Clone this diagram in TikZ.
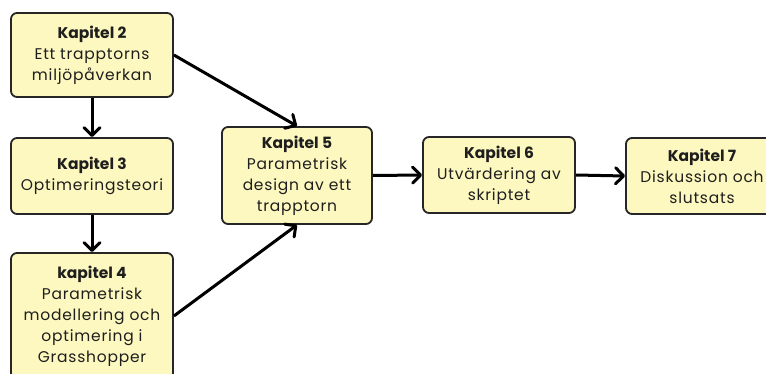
\documentclass[tikz,border=0pt]{standalone}
\usepackage{fontspec}
\setmainfont{Poppins}
\usetikzlibrary{arrows.meta}
\definecolor{boxfill}{HTML}{FDF8BF}
\definecolor{boxline}{HTML}{262626}
\definecolor{ink}{HTML}{1E1E1E}
\newfontfamily\bodyfont[LetterSpace=5]{Poppins}
\tikzset{
  chapter/.style={draw=boxline, line width=1.8pt, fill=boxfill, rounded corners=6pt,
    align=center, text=ink, inner sep=0pt,
    font=\fontsize{15.5}{21}\selectfont\bodyfont},
  flow/.style={line width=3pt, draw=black,
    -{Straight Barb[length=8pt,width=16pt,line cap=round,line join=round]}}
}
\newcommand{\chaptitle}[1]{{\fontsize{15.5}{21}\selectfont\normalfont\bfseries #1}}
\begin{document}
\begin{tikzpicture}[x=1pt,y=-1pt]
  \useasboundingbox (0,0) rectangle (766,374);
  \node[chapter, minimum width=162pt, minimum height=84pt] (k2) at (92,55)
    {\chaptitle{Kapitel 2}\\Ett trapptorns\\miljöpåverkan};
  \node[chapter, minimum width=162pt, minimum height=76pt] (k3) at (92,176)
    {\chaptitle{Kapitel 3}\\Optimeringsteori};
  \node[chapter, minimum width=162pt, minimum height=126pt] (k4) at (92,316)
    {\chaptitle{kapitel 4}\\Parametrisk\\modellering och\\optimering i\\Grasshopper};
  \node[chapter, minimum width=150pt, minimum height=97pt] (k5) at (297,175.5)
    {\chaptitle{Kapitel 5}\\Parametrisk\\design av ett\\trapptorn};
  \node[chapter, minimum width=152pt, minimum height=76pt] (k6) at (499,175)
    {\chaptitle{Kapitel 6}\\Utvärdering av\\skriptet};
  \node[chapter, minimum width=152pt, minimum height=76pt] (k7) at (702,176)
    {\chaptitle{Kapitel 7}\\Diskussion och\\slutsats};

  \draw[flow] (k2.south) -- (k3.north);
  \draw[flow] (k3.south) -- (k4.north);
  \draw[flow] (k2.east) -- (k5.north);
  \draw[flow] (k4.east) -- (k5.south);
  \draw[flow] (k5.east) -- (k6.west);
  \draw[flow] (k6.east) -- (k7.west);
\end{tikzpicture}
\end{document}
